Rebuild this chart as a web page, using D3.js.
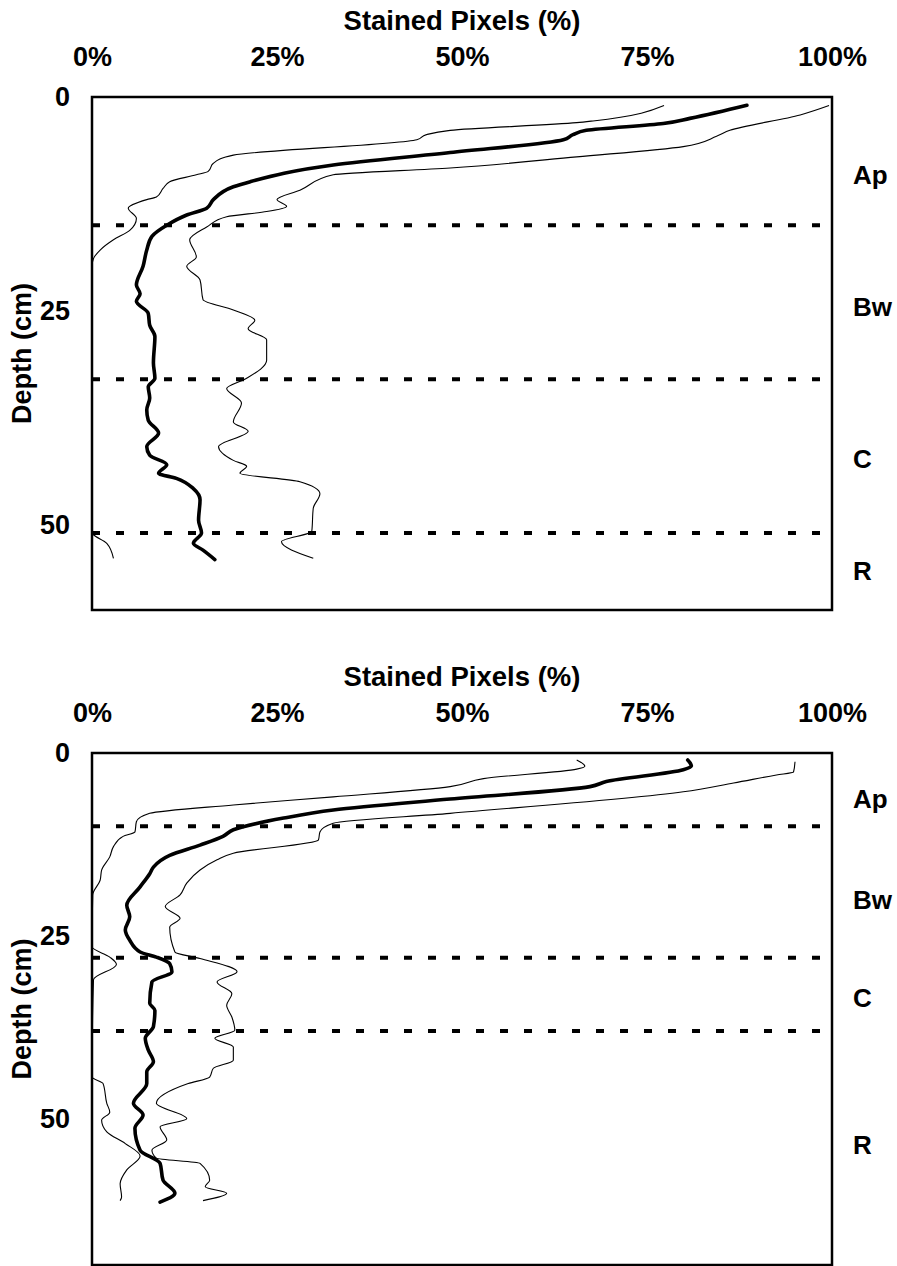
<!DOCTYPE html>
<html>
<head>
<meta charset="utf-8">
<script src="https://cdn.jsdelivr.net/npm/d3@7"></script>
<style>
  body { margin: 0; background: #fff; }
  text { font-family: 'Liberation Sans', Arial, sans-serif; font-weight: bold; fill: #000; }
</style>
</head>
<body>
<svg></svg>
<script>
const w = 897
const h = 1266

// x ticks (% stained), y ticks (depth cm)
const pctTicks = [0, 25, 50, 75, 100]
const depthTicks = [0, 25, 50]

// horizons: boundaries + labels (depth cm)
const topBounds = [15, 33, 51]
const topHorizons = [['Ap', 9.1], ['Bw', 24.5], ['C', 42.3], ['R', 55.4]]
const botBounds = [10, 28, 38]
const botHorizons = [['Ap', 6.2], ['Bw', 20.1], ['C', 33.5], ['R', 53.6]]

// series as [stained %, depth cm]
const topMin = [[77.3,1.0],[67.7,2.8],[65.5,3.0],[48.4,3.9],[45.2,4.4],[43.9,5.0],[19.1,6.8],[16.4,7.75],[15.7,8.7],[14.1,9.1],[10.5,9.9],[9.6,10.7],[8.7,11.7],[7.4,12.0],[4.9,13.0],[6.0,14.2],[5.1,15.6],[2.9,16.7],[1.1,17.9],[0.2,18.9],[0,19.8],[0,51.0],[0.2,51.2],[2.0,52.2],[2.9,53.95]]
const topMean = [[88.5,0.97],[80.8,2.5],[77.2,3.1],[66.8,3.9],[65.0,4.4],[63.7,5.0],[48.4,6.5],[32.6,7.95],[21.4,9.9],[19.1,10.5],[16.4,12.0],[15.5,13.0],[12.8,13.8],[10.1,15.0],[8.1,16.3],[7.4,17.9],[6.9,19.8],[6.0,22.0],[6.5,23.0],[6.0,23.9],[7.6,25.3],[7.8,26.7],[8.5,28.0],[8.3,31.1],[8.5,32.9],[7.6,33.9],[7.8,35.2],[7.4,36.6],[7.6,37.8],[9.0,39.3],[7.4,40.9],[7.8,41.9],[10.1,43.0],[9.0,44.0],[11.4,44.6],[13.7,45.8],[14.6,47.1],[14.4,49.5],[14.8,51.0],[13.7,52.2],[15.0,53.0],[16.6,54.1]]
const topMax = [[99.6,1.0],[95.7,2.1],[86.2,3.9],[84.4,4.6],[79.9,5.8],[65.5,7.0],[48.4,8.3],[32.6,9.1],[28.1,10.9],[25.0,12.0],[26.3,12.8],[23.6,13.4],[18.2,14.0],[15.5,15.2],[13.2,16.7],[14.1,18.7],[12.8,19.8],[14.6,21.4],[15.0,23.7],[19.1,24.9],[22.0,26.1],[21.1,27.1],[23.6,28.4],[23.6,30.8],[20.9,32.9],[18.2,34.1],[20.2,35.8],[19.1,38.0],[21.1,39.1],[17.1,40.9],[19.1,42.5],[20.9,43.2],[20.0,44.0],[28.1,45.0],[30.8,46.4],[29.9,48.1],[29.7,50.8],[25.6,52.0],[29.9,53.95]]

const botMin = [[65.5,0.96],[66.6,1.8],[65.5,2.2],[52.9,3.5],[48.4,4.6],[32.6,6.0],[19.1,7.1],[7.8,8.25],[6.0,9.4],[5.8,10.8],[4.2,11.4],[2.9,12.8],[2.4,14.2],[1.3,16.0],[1.1,17.4],[0.1,19.4],[0,26.5],[2.4,27.9],[3.3,28.9],[0.2,31.0],[0,44.3],[1.5,45.2],[2.0,47.9],[2.4,49.1],[1.3,50.2],[2.0,51.8],[4.5,53.4],[6.5,55.1],[4.7,57.0],[3.8,58.9],[4.0,60.7],[3.8,61.2]]
const botMean = [[80.5,0.96],[81.0,1.78],[79.9,2.3],[69.5,3.9],[67.3,4.6],[48.4,6.3],[32.6,7.8],[25.9,8.9],[19.1,10.5],[17.7,11.4],[14.6,12.6],[10.5,14.0],[8.3,15.6],[7.8,16.5],[6.5,18.3],[4.7,20.8],[5.1,22.4],[4.5,24.2],[5.1,25.6],[6.5,27.2],[8.7,27.9],[10.5,28.8],[10.8,29.9],[8.1,31.3],[7.8,34.2],[8.5,35.2],[8.3,37.4],[7.2,39.0],[7.6,40.6],[8.3,42.2],[7.4,43.6],[7.4,45.2],[5.6,47.9],[6.9,49.5],[5.8,51.3],[6.5,54.3],[9.2,56.1],[9.6,58.4],[11.2,60.2],[9.2,61.4]]
const botMax = [[95.0,1.2],[94.8,2.6],[92.5,3.0],[86.7,4.1],[79.9,5.3],[48.4,8.25],[32.6,9.6],[30.8,10.8],[30.6,11.9],[19.1,13.7],[16.9,14.6],[14.6,16.0],[12.8,17.8],[11.9,19.4],[9.9,21.0],[11.9,22.6],[10.5,23.8],[11.2,27.2],[14.6,28.1],[19.6,29.9],[16.9,31.3],[18.9,32.9],[18.2,34.5],[18.9,36.1],[19.3,37.9],[16.6,39.0],[19.1,40.2],[19.1,42.0],[16.4,43.1],[15.9,44.3],[13.0,45.2],[8.7,47.9],[12.8,50.0],[9.2,51.1],[10.1,52.9],[8.1,54.3],[8.7,55.4],[14.6,56.1],[15.9,58.4],[15.3,59.3],[18.2,60.2],[15.0,61.2]]

const svg = d3.select('svg')
  .attr('width', w)
  .attr('height', h);

const panels = [
  {top: 97, bottom: 610, maxDepth: 60, bounds: topBounds, horizons: topHorizons, min: topMin, mean: topMean, max: topMax},
  {top: 753, bottom: 1265, maxDepth: 70, bounds: botBounds, horizons: botHorizons, min: botMin, mean: botMean, max: botMax}
]

const left = 92
const right = 832

const render = p => {
  const xScale = d3.scaleLinear()
    .domain([0, 100])
    .range([left, right]);

  const yScale = d3.scaleLinear()
    .domain([0, p.maxDepth])
    .range([p.top, p.bottom]);

  const g = svg.append('g');

  // x axis on top
  const xAxisG = g.append('g')
    .attr('transform', `translate(0, ${p.top})`)
    .call(d3.axisTop(xScale).tickValues(pctTicks).tickFormat(d => d + '%').tickSize(0).tickPadding(31));
  xAxisG.select('.domain').remove();
  xAxisG.selectAll('text')
    .attr('font-size', 27)
    .attr('font-family', "'Liberation Sans', Arial, sans-serif");

  xAxisG.append('text')
    .attr('x', (left + right) / 2)
    .attr('y', -67)
    .attr('text-anchor', 'middle')
    .attr('font-size', 27.5)
    .text('Stained Pixels (%)');

  // y axis
  const yAxisG = g.append('g')
    .attr('transform', `translate(${left}, 0)`)
    .call(d3.axisLeft(yScale).tickValues(depthTicks).tickSize(0).tickPadding(22));
  yAxisG.select('.domain').remove();
  yAxisG.selectAll('text')
    .attr('font-size', 27)
    .attr('font-family', "'Liberation Sans', Arial, sans-serif");

  g.append('text')
    .attr('transform', `translate(31, ${(p.top + p.bottom) / 2}) rotate(-90)`)
    .attr('text-anchor', 'middle')
    .attr('font-size', 27)
    .text('Depth (cm)');

  // horizon boundaries
  g.selectAll('line.bound').data(p.bounds)
    .enter().append('line')
    .attr('class', 'bound')
    .attr('x1', left)
    .attr('x2', right - 2)
    .attr('y1', d => yScale(d))
    .attr('y2', d => yScale(d))
    .attr('stroke', '#000')
    .attr('stroke-width', 4)
    .attr('stroke-dasharray', '8,16');

  // horizon labels
  g.selectAll('text.hz').data(p.horizons)
    .enter().append('text')
    .attr('class', 'hz')
    .attr('x', 853)
    .attr('y', d => yScale(d[1]))
    .attr('dy', '0.36em')
    .attr('font-size', 26)
    .text(d => d[0]);

  // depth increases along each series, so monotoneY keeps x from overshooting
  const line = d3.line()
    .x(d => xScale(d[0]))
    .y(d => yScale(d[1]))
    .curve(d3.curveMonotoneY);

  g.append('path').attr('d', line(p.min))
    .attr('fill', 'none').attr('stroke', '#000').attr('stroke-width', 1.1);
  g.append('path').attr('d', line(p.max))
    .attr('fill', 'none').attr('stroke', '#000').attr('stroke-width', 1.1);
  g.append('path').attr('d', line(p.mean))
    .attr('fill', 'none').attr('stroke', '#000').attr('stroke-width', 3.6)
    .attr('stroke-linecap', 'round');

  // frame
  g.append('rect')
    .attr('x', left)
    .attr('y', p.top)
    .attr('width', right - left)
    .attr('height', p.bottom - p.top)
    .attr('fill', 'none')
    .attr('stroke', '#000')
    .attr('stroke-width', 2.5);
}

panels.forEach(render)
</script>
</body>
</html>
